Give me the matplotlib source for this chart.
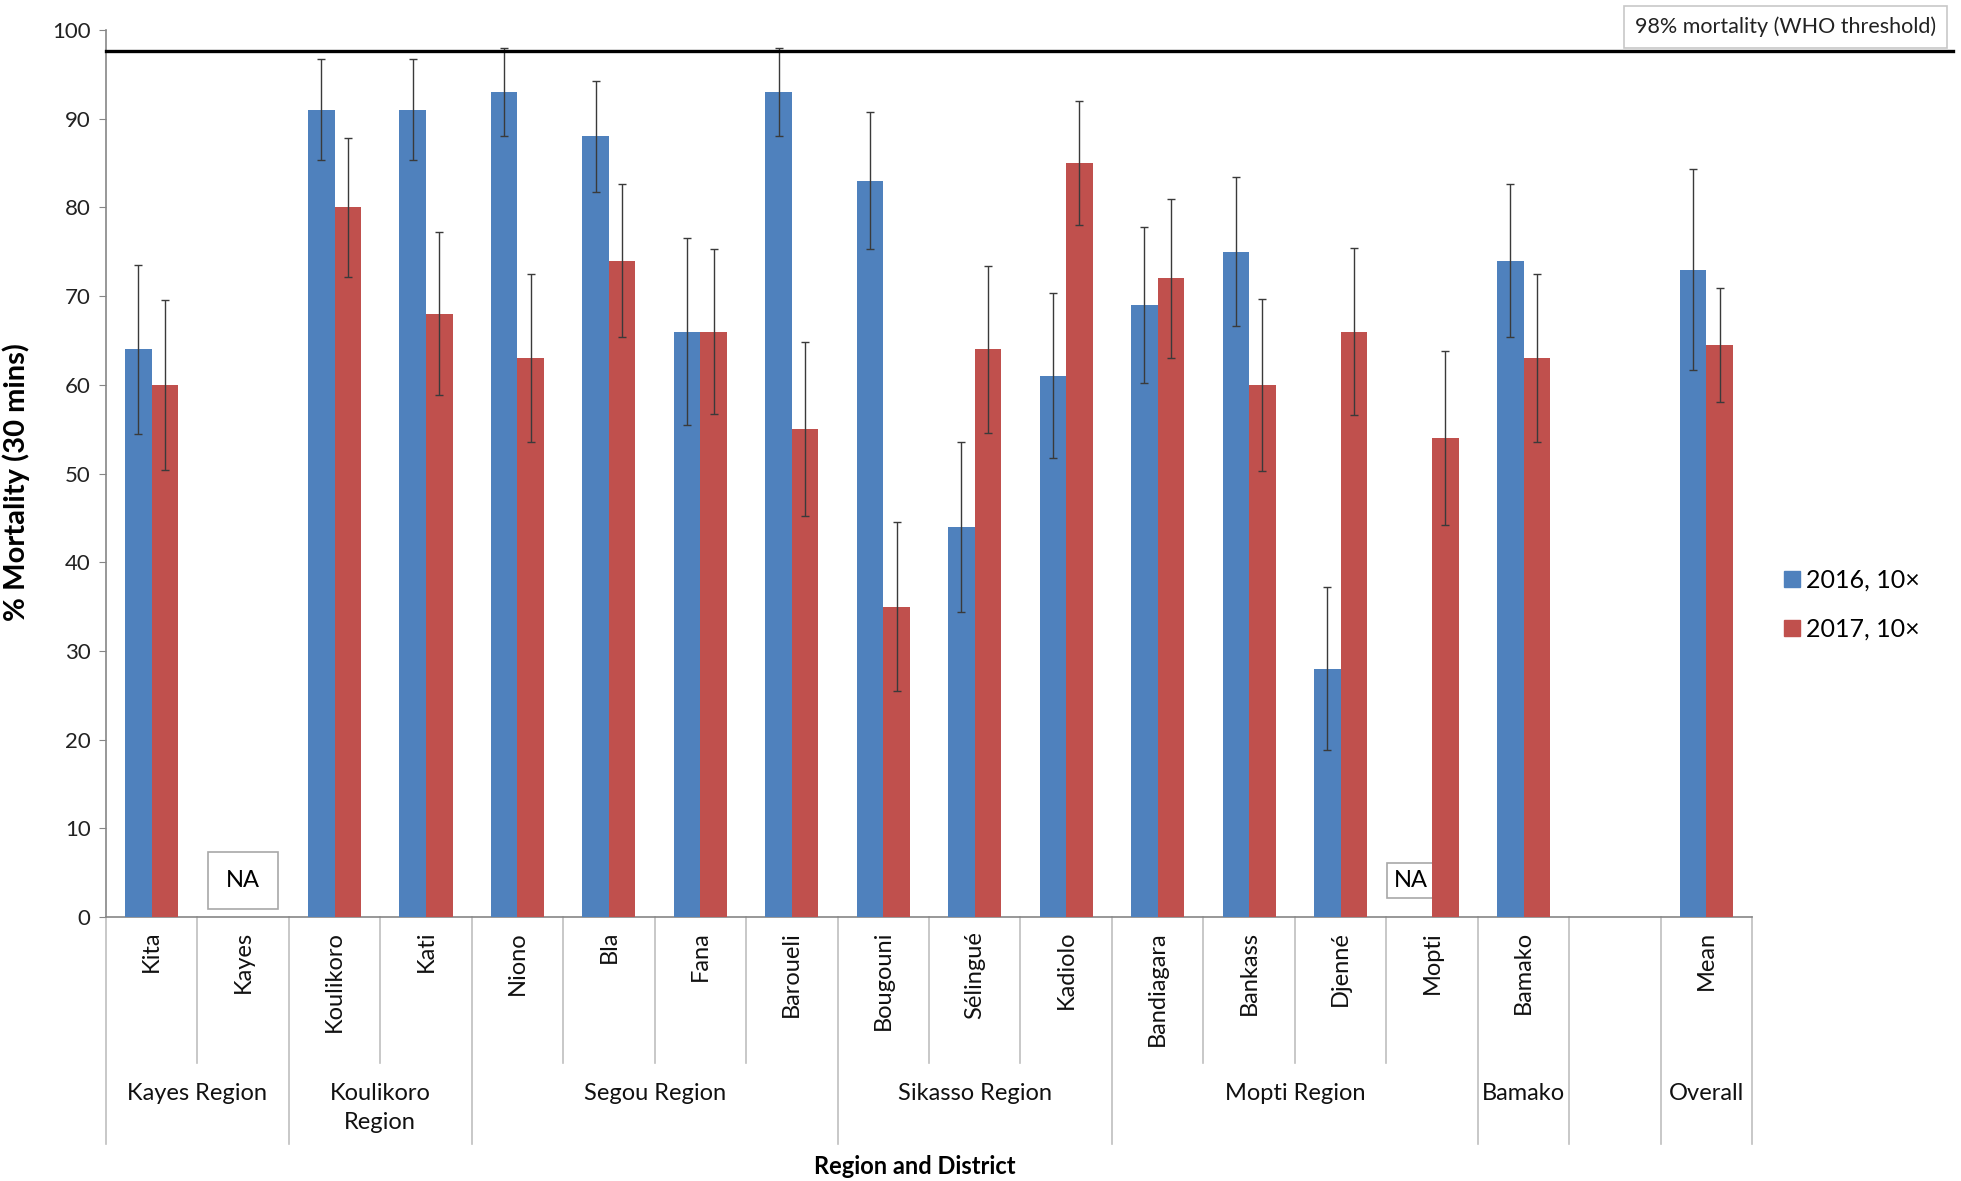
import numpy as np
import matplotlib
matplotlib.use("Agg")
import matplotlib.pyplot as plt
import matplotlib.transforms as mtransforms
from matplotlib.lines import Line2D

# ---------------- data ----------------
districts = ["Kita", "Kayes", "Koulikoro", "Kati", "Niono", "Bla", "Fana", "Baroueli",
             "Bougouni", "Sélingué", "Kadiolo", "Bandiagara", "Bankass", "Djenné",
             "Mopti", "Bamako", "", "Mean"]
mort_2016 = [64, np.nan, 91, 91, 93, 88, 66, 93, 83, 44, 61, 69, 75, 28, np.nan, 74, np.nan, 73]
err_2016 = [9.5, np.nan, 5.7, 5.7, 5.0, 6.3, 10.5, 5.0, 7.7, 9.6, 9.3, 8.8, 8.4, 9.2, np.nan, 8.6, np.nan, 11.3]
mort_2017 = [60, np.nan, 80, 68, 63, 74, 66, 55, 35, 64, 85, 72, 60, 66, 54, 63, np.nan, 64.5]
err_2017 = [9.6, np.nan, 7.8, 9.2, 9.5, 8.6, 9.3, 9.8, 9.5, 9.4, 7.0, 9.0, 9.7, 9.4, 9.8, 9.5, np.nan, 6.4]
regions = ["Kayes Region", "Koulikoro\nRegion", "Segou Region", "Sikasso Region",
           "Mopti Region", "Bamako", "", "Overall"]
region_start = [0, 2, 4, 8, 11, 15, 16, 17]
region_end = [1, 3, 7, 10, 14, 15, 16, 17]
series_labels = ["2016, 10×", "2017, 10×"]
who_line_level = 97.6   # drawn level of the 98% WHO threshold line
yticks = list(range(0, 101, 10))

# ---------------- style ----------------
BLUE = "#4F81BD"
RED = "#C0504D"
GRID = "#BFBFBF"
AXC = "#868686"
FONT = "Lato"

fig = plt.figure(figsize=(19.61, 11.81), dpi=100)
ax = fig.add_axes([0.054, 0.2235, 0.8395, 0.7511])

x = np.arange(len(districts))
w = 0.29
ekw = dict(ecolor="#3a3a3a", elinewidth=1.0, capsize=3, capthick=1.0)
ax.bar(x - w / 2, mort_2016, w, color=BLUE, yerr=err_2016, error_kw=ekw, zorder=3)
ax.bar(x + w / 2, mort_2017, w, color=RED, yerr=err_2017, error_kw=ekw, zorder=3)

ax.set_xlim(-0.5, len(districts) - 0.5)
ax.set_ylim(0, 100)
ax.set_yticks(yticks)
ax.set_yticklabels([str(t) for t in yticks], fontsize=16, family=FONT, color="#222222")
ax.tick_params(axis="y", length=5, color=AXC, pad=6)
ax.set_xticks(x)
ax.set_xticklabels(districts, rotation=90, fontsize=17, family=FONT, color="#111111")
ax.tick_params(axis="x", length=0, pad=10)
for s in ["top", "right"]:
    ax.spines[s].set_visible(False)
for s in ["left", "bottom"]:
    ax.spines[s].set_color(AXC)
    ax.spines[s].set_linewidth(1.2)

# WHO threshold line (extends past the plot area)
ax.axhline(who_line_level, xmin=0, xmax=1.122, color="black", lw=2.4, clip_on=False, zorder=4)
fig.text(0.9105, 0.9775, "98% mortality (WHO threshold)", ha="center", va="center",
         fontsize=15.5, family=FONT, color="#222222",
         bbox=dict(boxstyle="square,pad=0.5", fc="white", ec="#C8C8C8", lw=1.2))

# NA boxes
ax.text(districts.index("Kayes"), 4.1, "NA", ha="center", va="center", fontsize=17,
        family=FONT, zorder=2,
        bbox=dict(boxstyle="square,pad=0.75", fc="white", ec="#A8A8A8", lw=1.2))
ax.text(districts.index("Mopti") - 0.23, 4.1, "NA", ha="center", va="center", fontsize=17,
        family=FONT, zorder=2,
        bbox=dict(boxstyle="square,pad=0.3", fc="white", ec="#A8A8A8", lw=1.2))

# multi-level category axis separators
trans = mtransforms.blended_transform_factory(ax.transData, ax.transAxes)
region_bounds = set([s - 0.5 for s in region_start] + [region_end[-1] + 0.5])
for b in np.arange(-0.5, len(districts), 1.0):
    bottom = -0.256 if b in region_bounds else -0.1646
    ax.plot([b, b], [0, bottom], transform=trans, color=GRID, lw=1.2, clip_on=False)

for name, s, e in zip(regions, region_start, region_end):
    ax.text((s + e) / 2, -0.187, name, transform=trans, ha="center", va="top",
            fontsize=17, family=FONT, color="#111111", linespacing=1.5)

ax.text(8.34, -0.2807, "Region and District", transform=trans,
        ha="center", va="center", fontsize=17, family=FONT, fontweight="bold")
fig.text(0.0085, 0.592, "% Mortality (30 mins)", rotation=90, ha="center", va="center",
         fontsize=21, family=FONT, fontweight="bold")

handles = [Line2D([], [], marker="s", ls="", color=c, markersize=12) for c in (BLUE, RED)]
fig.legend(handles, series_labels, loc="center left", bbox_to_anchor=(0.9025, 0.488),
           frameon=False, prop=dict(family=FONT, size=18), handletextpad=0.2,
           labelspacing=1.05, borderpad=0, handlelength=0.75)

fig.savefig("out.png", dpi=100, facecolor="white")
